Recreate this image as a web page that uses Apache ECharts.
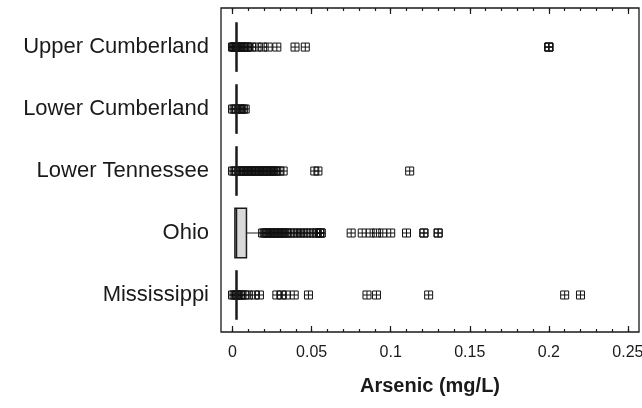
<!DOCTYPE html>
<html>
<head>
<meta charset="utf-8">
<script src="https://cdn.jsdelivr.net/npm/echarts@6/dist/echarts.min.js"></script>
<style>
  html, body { margin: 0; padding: 0; background: #fff; }
  #chart { width: 642px; height: 408px; }
</style>
</head>
<body>
<div id="chart"></div>
<script>
// Categories, bottom to top (position 1..5)
const categories = ['Mississippi', 'Ohio', 'Lower Tennessee', 'Lower Cumberland', 'Upper Cumberland'];

// Box statistics per category (mg/L)
const q1          = [0.0025, 0.0015, 0.0025, 0.0025, 0.0025];
const medians     = [0.0025, 0.0025, 0.0025, 0.0025, 0.0025];
const q3          = [0.0025, 0.0088, 0.0025, 0.0025, 0.0025];
const whiskerLow  = [0.0025, 0.0015, 0.0025, 0.0025, 0.0025];
const whiskerHigh = [0.0025, 0.0180, 0.0025, 0.0025, 0.0025];

// Outliers per category (mg/L)
const outliersMississippi = [0, 0.001, 0.002, 0.003, 0.004, 0.005, 0.006, 0.008, 0.010,
  0.014, 0.017, 0.028, 0.031, 0.034, 0.039, 0.048, 0.085, 0.091, 0.124, 0.21, 0.22];
const outliersOhio = [0.019, 0.020, 0.021, 0.022, 0.023, 0.024, 0.025, 0.026, 0.027, 0.028,
  0.029, 0.030, 0.031, 0.032, 0.033, 0.034, 0.035, 0.037, 0.039, 0.041, 0.043, 0.045,
  0.047, 0.049, 0.051, 0.053, 0.055, 0.055, 0.056, 0.056,
  0.075, 0.082, 0.087, 0.091, 0.095, 0.100, 0.110, 0.121, 0.121, 0.130, 0.130];
const outliersLowerTennessee = [0, 0.001, 0.002, 0.004, 0.005, 0.006, 0.007, 0.008, 0.009,
  0.010, 0.011, 0.012, 0.013, 0.014, 0.015, 0.016, 0.017, 0.018, 0.019, 0.020, 0.021,
  0.022, 0.023, 0.024, 0.025, 0.026, 0.027, 0.028, 0.030, 0.032, 0.052, 0.054, 0.112];
const outliersLowerCumberland = [0, 0.001, 0.002, 0.004, 0.005, 0.006, 0.007, 0.008];
const outliersUpperCumberland = [0, 0.0005, 0.001, 0.0015, 0.002, 0.003, 0.004, 0.005,
  0.006, 0.007, 0.008, 0.009, 0.010, 0.012, 0.0155, 0.019, 0.0225, 0.028, 0.0395, 0.046,
  0.2, 0.2, 0.2];
const outlierLists = [outliersMississippi, outliersOhio, outliersLowerTennessee,
  outliersLowerCumberland, outliersUpperCumberland];

// Axis ticks / labels
const xLabelValues = [0, 0.05, 0.1, 0.15, 0.2, 0.25];
const xMinorTickValues = [0, 0.01, 0.02, 0.03, 0.04, 0.05, 0.06, 0.07, 0.08, 0.09, 0.1,
  0.11, 0.12, 0.13, 0.14, 0.15, 0.16, 0.17, 0.18, 0.19, 0.2, 0.21, 0.22, 0.23, 0.24, 0.25];
const xLabelTexts = ['0', '0.05', '0.1', '0.15', '0.2', '0.25'];
const xTitle = 'Arsenic (mg/L)';

const X_MIN = -0.0073, X_MAX = 0.257;
const Y_MIN = 0.403, Y_MAX = 5.63;
const FONT = 'Liberation Sans, Arial, Helvetica, sans-serif';

const boxData = categories.map((c, i) => [i + 1, q1[i], medians[i], q3[i], whiskerLow[i], whiskerHigh[i]]);
const scatterData = [];
outlierLists.forEach((list, i) => list.forEach(v => scatterData.push([v, i + 1])));

function tickAxis(position, values, len, withLabels) {
  return {
    type: 'value', position: position, min: X_MIN, max: X_MAX,
    axisLine: { show: false },
    splitLine: { show: false },
    axisTick: { show: true, inside: true, length: len, customValues: values,
      lineStyle: { color: '#1a1a1a', width: 1.2 } },
    axisLabel: withLabels ? {
      show: true, customValues: xLabelValues, margin: 13,
      fontFamily: FONT, fontSize: 16, color: '#1a1a1a',
      formatter: v => { const k = xLabelValues.findIndex(t => Math.abs(t - v) < 1e-9); return k >= 0 ? xLabelTexts[k] : ''; }
    } : { show: false },
    name: withLabels ? xTitle : '',
    nameLocation: 'middle', nameGap: 44,
    nameTextStyle: { fontFamily: FONT, fontSize: 20, fontWeight: 'bold', color: '#1a1a1a' }
  };
}

const chart = echarts.init(document.getElementById('chart'), null, { renderer: 'canvas' });
chart.setOption({
  animation: false,
  backgroundColor: '#ffffff',
  grid: { left: 221, right: 3, top: 8, bottom: 76, show: true, borderColor: '#1a1a1a', borderWidth: 1.3,
    backgroundColor: 'transparent', containLabel: false, outerBoundsMode: 'none' },
  xAxis: [
    tickAxis('bottom', xLabelValues, 6, true),
    tickAxis('bottom', xMinorTickValues, 3, false),
    tickAxis('top', xLabelValues, 6, false),
    tickAxis('top', xMinorTickValues, 3, false)
  ],
  yAxis: {
    type: 'value', min: Y_MIN, max: Y_MAX,
    axisLine: { show: false }, axisTick: { show: false }, splitLine: { show: false },
    axisLabel: {
      customValues: [1, 2, 3, 4, 5], margin: 12,
      fontFamily: FONT, fontSize: 22, color: '#1a1a1a',
      formatter: v => categories[Math.round(v) - 1] || ''
    }
  },
  series: [
    {
      type: 'scatter', xAxisIndex: 0,
      data: scatterData,
      symbol: 'path://M0,0H10V10H0ZM5,0V10M0,5H10',
      symbolSize: 8,
      itemStyle: { color: 'rgba(0,0,0,0)', borderColor: '#111111', borderWidth: 1, opacity: 1 },
      z: 2
    },
    {
      type: 'custom', xAxisIndex: 0,
      data: boxData,
      encode: { x: [1, 2, 3, 4, 5], y: 0 },
      z: 3,
      renderItem: function (params, api) {
        const pos = api.value(0);
        const yc = api.coord([0, pos])[1];
        const h = api.size([0, 0.8])[1] / 2;
        const xq1 = api.coord([api.value(1), pos])[0];
        const xmed = api.coord([api.value(2), pos])[0];
        const xq3 = api.coord([api.value(3), pos])[0];
        const xwh = api.coord([api.value(5), pos])[0];
        const children = [];
        if (xwh > xq3 + 0.5) {
          children.push({ type: 'line', shape: { x1: xq3, y1: yc, x2: xwh, y2: yc }, style: { stroke: '#1a1a1a', lineWidth: 1 } });
          children.push({ type: 'line', shape: { x1: xwh, y1: yc - 4, x2: xwh, y2: yc + 4 }, style: { stroke: '#1a1a1a', lineWidth: 1 } });
        }
        if (xq3 - xq1 > 1) {
          children.push({ type: 'rect', shape: { x: xq1, y: yc - h, width: xq3 - xq1, height: 2 * h },
            style: { fill: '#d9d9d9', stroke: '#1a1a1a', lineWidth: 1.5 } });
          children.push({ type: 'line', shape: { x1: xmed, y1: yc - h, x2: xmed, y2: yc + h }, style: { stroke: '#1a1a1a', lineWidth: 1.5 } });
        } else {
          children.push({ type: 'line', shape: { x1: xmed, y1: yc - h, x2: xmed, y2: yc + h }, style: { stroke: '#1a1a1a', lineWidth: 2.5 } });
        }
        return { type: 'group', children: children };
      }
    }
  ]
});
</script>
</body>
</html>
